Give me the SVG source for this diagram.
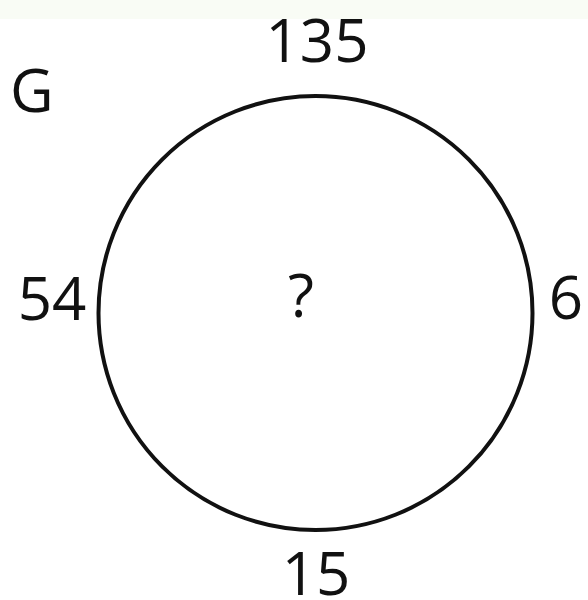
<svg xmlns="http://www.w3.org/2000/svg" width="588" height="600" viewBox="0 0 588 600">
<style>
.t{font-family:"Open Sans","Noto Sans","Liberation Sans",sans-serif;font-size:60px;fill:#111;}
</style>
<rect width="588" height="600" fill="#ffffff"/>
<rect width="588" height="19" fill="#f9fcf5"/>
<g id="circle"><circle cx="315.5" cy="313" r="217" fill="none" stroke="#111" stroke-width="4"/></g>
<g id="label-G"><text class="t" x="10" y="112">G</text></g>
<g id="top"><text class="t" x="317" y="62" text-anchor="middle">135</text></g>
<g id="left"><text class="t" x="52" y="320" text-anchor="middle">54</text></g>
<g id="right"><text class="t" x="566" y="319" text-anchor="middle">6</text></g>
<g id="bottom"><text class="t" x="316" y="595" text-anchor="middle">15</text></g>
<g id="center"><text class="t" x="301" y="317" text-anchor="middle">?</text></g>
<g id="connectors"/>
</svg>
